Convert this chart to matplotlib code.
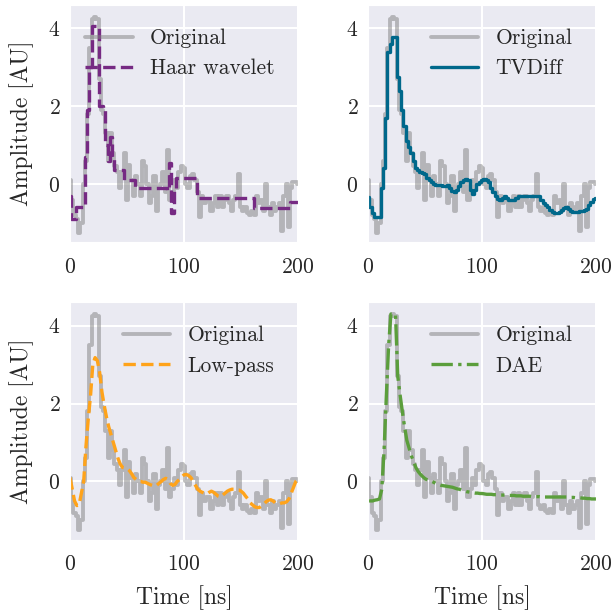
import matplotlib
matplotlib.use("Agg")
import matplotlib.pyplot as plt
import numpy as np
import seaborn as sns

# time axis (ns), 2 ns sampling
time_ns = np.arange(0, 201, 2)

original = [
    0.1, -0.4, -0.8, -0.9, -1.25, -1.0, 0.0, 0.6, 1.8, 3.5,
    4.25, 4.3, 4.25, 2.7, 1.9, 1.8, 1.3, 0.6, 1.3, 0.8,
    0.45, 0.3, -0.1, 0.3, 0.8, -0.4, 0.5, 0.1, -0.3, 0.2,
    0.0, -0.3, 0.6, 0.45, 0.0, -0.5, -0.3, 0.2, -0.7, -0.1,
    0.0, 0.3, -0.2, 0.87, -0.4, -0.2, 0.1, -0.1, 0.3, 0.45,
    0.4, 0.0, -0.1, 0.2, 0.25, 0.1, -0.2, -0.85, -0.3, -0.5,
    -0.4, -0.4, -0.7, -0.5, -0.3, -0.6, -0.3, -0.6, -0.4, -0.3,
    -0.5, -0.7, -0.4, -0.3, 0.25, -0.6, -0.7, -0.6, -0.75, -0.8,
    -0.7, -0.8, -0.3, -0.5, -0.4, -0.7, 0.0, -0.6, -0.8, -0.5,
    -0.7, -0.6, -0.5, -1.2, -0.3, 0.0, -1.1, -0.1, 0.05, 0.05,
    0.0,
]

haar = [
    -0.3, -0.9, -0.9, -0.6, -0.6, -0.6, -0.6, 0.7, 1.9, 3.0,
    4.05, 4.05, 4.05, 2.0, 2.0, 1.9, 1.0, 0.6, 1.2, 0.7,
    0.35, 0.35, 0.35, 0.35, 0.1, 0.1, 0.1, 0.1, 0.1, -0.1,
    -0.1, -0.1, -0.1, -0.1, -0.1, -0.1, -0.1, -0.1, -0.1, -0.1,
    -0.1, -0.1, -0.1, -0.15, 0.55, -0.75, -0.1, 0.15, 0.15, 0.15,
    0.15, 0.15, 0.15, 0.15, 0.15, 0.15, -0.35, -0.35, -0.35, -0.35,
    -0.35, -0.35, -0.35, -0.35, -0.35, -0.35, -0.35, -0.35, -0.35, -0.35,
    -0.35, -0.35, -0.35, -0.35, -0.35, -0.35, -0.35, -0.35, -0.35, -0.35,
    -0.35, -0.62, -0.62, -0.62, -0.62, -0.62, -0.62, -0.62, -0.62, -0.62,
    -0.62, -0.62, -0.62, -0.62, -0.62, -0.62, -0.62, -0.45, -0.45, -0.45,
    -0.45,
]

tvdiff = [
    -0.33, -0.6, -0.75, -0.85, -0.85, -0.85, -0.1, 0.4, 1.7, 3.4,
    3.6, 3.77, 3.77, 2.75, 2.4, 1.9, 1.5, 1.1, 0.95, 0.8,
    0.6, 0.4, 0.35, 0.32, 0.28, 0.25, 0.15, 0.1, 0.05, 0.0,
    -0.02, -0.02, -0.03, -0.05, -0.05, -0.02, -0.1, -0.18, -0.2, -0.15,
    -0.05, 0.05, 0.1, 0.12, 0.1, -0.15, -0.25, -0.15, 0.0, 0.05,
    0.1, 0.12, 0.1, 0.05, -0.1, -0.2, -0.3, -0.38, -0.4, -0.35,
    -0.32, -0.35, -0.4, -0.42, -0.4, -0.35, -0.3, -0.3, -0.32, -0.3,
    -0.3, -0.3, -0.3, -0.3, -0.3, -0.32, -0.4, -0.5, -0.55, -0.6,
    -0.68, -0.72, -0.75, -0.75, -0.72, -0.68, -0.62, -0.6, -0.65, -0.7,
    -0.72, -0.72, -0.72, -0.7, -0.7, -0.68, -0.65, -0.55, -0.45, -0.38,
    -0.35,
]

lowpass = [
    0.1, -0.2, -0.5, -0.62, -0.6, -0.3, 0.0, 0.9, 1.6, 2.2,
    3.0, 3.18, 3.1, 2.8, 2.3, 1.95, 1.65, 1.4, 1.2, 1.0,
    0.8, 0.6, 0.45, 0.36, 0.35, 0.33, 0.28, 0.2, 0.1, 0.05,
    0.0, 0.0, -0.02, -0.02, -0.05, -0.08, -0.1, -0.12, -0.1, -0.05,
    0.0, 0.05, 0.08, 0.05, -0.05, -0.1, -0.08, 0.0, 0.05, 0.12,
    0.17, 0.18, 0.15, 0.1, 0.0, -0.1, -0.2, -0.25, -0.28, -0.3,
    -0.32, -0.28, -0.25, -0.28, -0.33, -0.38, -0.4, -0.35, -0.3, -0.25,
    -0.22, -0.2, -0.2, -0.22, -0.22, -0.25, -0.3, -0.38, -0.45, -0.55,
    -0.6, -0.65, -0.67, -0.67, -0.63, -0.58, -0.52, -0.48, -0.47, -0.5,
    -0.55, -0.58, -0.57, -0.55, -0.55, -0.52, -0.45, -0.3, -0.15, 0.0,
    0.05,
]

dae = [
    -0.5, -0.5, -0.5, -0.48, -0.47, -0.45, -0.2, 0.8, 2.2, 3.5,
    4.3, 4.3, 4.3, 2.7, 2.23, 1.8, 1.4, 1.05, 0.85, 0.65,
    0.5, 0.35, 0.25, 0.18, 0.12, 0.07, 0.04, 0.02, 0.0, -0.03,
    -0.06, -0.08, -0.1, -0.11, -0.12, -0.13, -0.14, -0.15, -0.17, -0.19,
    -0.2, -0.22, -0.24, -0.26, -0.27, -0.28, -0.29, -0.3, -0.3, -0.31,
    -0.31, -0.32, -0.33, -0.33, -0.33, -0.34, -0.34, -0.34, -0.35, -0.35,
    -0.35, -0.35, -0.36, -0.36, -0.36, -0.37, -0.37, -0.37, -0.38, -0.38,
    -0.38, -0.38, -0.39, -0.39, -0.39, -0.39, -0.4, -0.4, -0.4, -0.4,
    -0.4, -0.4, -0.4, -0.4, -0.4, -0.4, -0.4, -0.4, -0.41, -0.41,
    -0.41, -0.42, -0.42, -0.42, -0.43, -0.43, -0.44, -0.44, -0.45, -0.45,
    -0.45,
]

# (label, data, color, linestyle, drawstyle)
panels = [
    ("Haar wavelet", haar, "#762a83", "--", "steps-mid"),
    ("TVDiff", tvdiff, "#00688b", "-", "steps-mid"),
    ("Low-pass", lowpass, "#ffa31a", "--", "default"),
    ("DAE", dae, "#5b9e3c", "-.", "default"),
]

sns.set_style("darkgrid")
plt.rcParams["font.family"] = "serif"
plt.rcParams["font.serif"] = ["cmr10"]
plt.rcParams["mathtext.fontset"] = "cm"
plt.rcParams["axes.formatter.use_mathtext"] = True
plt.rcParams["grid.linewidth"] = 1.5

fig, axes = plt.subplots(2, 2, figsize=(6.14, 6.10), dpi=100)
fig.subplots_adjust(left=0.114, right=0.971, top=0.992, bottom=0.115,
                    wspace=0.307, hspace=0.252)

for ax, (label, data, color, ls, ds) in zip(axes.flat, panels):
    ax.plot(time_ns, original, color="gray", alpha=0.5, lw=2.8,
            drawstyle="steps-mid", label="Original")
    ax.plot(time_ns, data, color=color, ls=ls, lw=2.4, drawstyle=ds, label=label)
    ax.set_xlim(0, 200)
    ax.set_ylim(-1.5, 4.6)
    ax.set_xticks([0, 100, 200])
    ax.set_yticks([0, 2, 4])
    ax.tick_params(labelsize=15.5, colors="#262626")
    ax.tick_params(axis="x", pad=7)
    ax.legend(loc="upper right", fontsize=15.5, frameon=False,
              handlelength=2.2, borderaxespad=0.7)

for ax in axes[:, 0]:
    ax.set_ylabel("Amplitude [AU]", fontsize=17, labelpad=10)
for ax in axes[1, :]:
    ax.set_xlabel("Time [ns]", fontsize=17, labelpad=8)

plt.savefig("out.png", dpi=100)
